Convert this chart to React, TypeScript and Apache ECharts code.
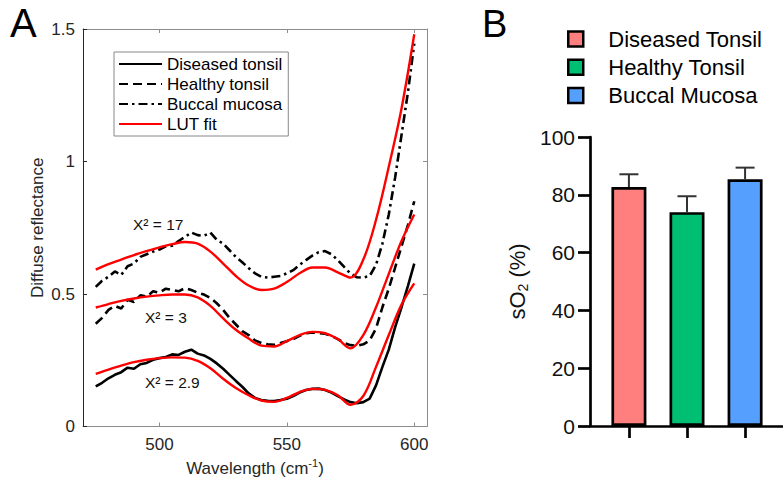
import React, { useEffect, useRef } from "react";
import * as echarts from "echarts";

const FONT = '"Liberation Sans", Arial, Helvetica, sans-serif';

// ---------- Panel A: diffuse reflectance spectra ----------
const wavelengthRaw = [
  475, 477.5, 480, 482.5, 485, 487.5, 490, 492.5, 495, 497.5, 500, 502.5, 505, 507.5, 510, 512.5, 515,
  517.5, 520, 522.5, 525, 527.5, 530, 532.5, 535, 537.5, 540, 542.5, 545, 547.5, 550, 552.5, 555, 557.5,
  560, 562.5, 565, 567.5, 570, 572.5, 575, 577.5, 580, 582.5, 585, 587.5, 590, 592.5, 595, 597.5, 600,
];
const wavelengthFit = [
  475, 480, 485, 490, 495, 500, 505, 510, 515, 520, 525, 530, 535, 540, 545, 550, 555, 560, 565, 570, 575,
  580, 585, 590, 595, 600,
];

const diseasedRaw = [
  0.151, 0.165, 0.182, 0.195, 0.205, 0.222, 0.218, 0.235, 0.24, 0.252, 0.258, 0.262, 0.272, 0.27, 0.282,
  0.29, 0.275, 0.268, 0.255, 0.238, 0.218, 0.195, 0.172, 0.15, 0.125, 0.108, 0.1, 0.097, 0.096, 0.1, 0.105,
  0.115, 0.128, 0.138, 0.142, 0.143, 0.138, 0.128, 0.115, 0.102, 0.092, 0.088, 0.092, 0.105, 0.155, 0.225,
  0.29, 0.375, 0.45, 0.53, 0.615,
];
const healthyRaw = [
  0.388, 0.41, 0.44, 0.455, 0.445, 0.478, 0.47, 0.495, 0.49, 0.51, 0.505, 0.52, 0.515, 0.51, 0.522, 0.515,
  0.505, 0.498, 0.485, 0.465, 0.44, 0.41, 0.385, 0.36, 0.345, 0.325, 0.315, 0.31, 0.308, 0.315, 0.322, 0.33,
  0.342, 0.352, 0.355, 0.352, 0.35, 0.342, 0.33, 0.315, 0.307, 0.305, 0.31, 0.325, 0.37, 0.45, 0.52, 0.6,
  0.68, 0.76, 0.85,
];
const buccalRaw = [
  0.527, 0.55, 0.565, 0.585, 0.572, 0.605, 0.615, 0.64, 0.65, 0.66, 0.668, 0.68, 0.682, 0.7, 0.715, 0.732,
  0.722, 0.72, 0.732, 0.705, 0.69, 0.665, 0.64, 0.62, 0.598, 0.578, 0.565, 0.562, 0.565, 0.568, 0.578, 0.59,
  0.61, 0.628, 0.645, 0.658, 0.662, 0.65, 0.628, 0.602, 0.577, 0.563, 0.562, 0.568, 0.61, 0.69, 0.8, 0.94,
  1.1, 1.26, 1.445,
];

const diseasedFit = [
  0.199, 0.215, 0.23, 0.243, 0.252, 0.258, 0.261, 0.26, 0.248, 0.22, 0.18, 0.145, 0.118, 0.098, 0.093,
  0.108, 0.13, 0.142, 0.138, 0.118, 0.082, 0.115, 0.225, 0.345, 0.46, 0.54,
];
const healthyFit = [
  0.449, 0.462, 0.474, 0.483, 0.49, 0.495, 0.498, 0.498, 0.487, 0.455, 0.408, 0.365, 0.332, 0.305, 0.302,
  0.322, 0.345, 0.357, 0.352, 0.33, 0.295, 0.345, 0.45, 0.576, 0.7, 0.8,
];
const buccalFit = [
  0.592, 0.613, 0.63, 0.647, 0.662, 0.676, 0.688, 0.696, 0.69, 0.66, 0.615, 0.568, 0.532, 0.515, 0.52,
  0.545, 0.578, 0.6, 0.6, 0.582, 0.562, 0.63, 0.78, 0.98, 1.2, 1.48,
];

const sampleNames = ["Diseased tonsil", "Healthy tonsil", "Buccal mucosa"];
const fitName = "LUT fit";
const chiLabels = ["X² = 17", "X² = 3", "X² = 2.9"];
const wavelengthTicks = [500, 550, 600];

// ---------- Panel B: sO2 bar chart ----------
const groupNames = ["Diseased Tonsil", "Healthy Tonsil", "Buccal Mucosa"];
const groupPositions = [1, 2, 3];
const sO2Mean = [82.7, 74.0, 85.4];
const sO2Err = [4.4, 5.5, 4.0];

const pairs = (xs: number[], ys: number[]) => xs.map((x, i) => [x, ys[i]]);

export default function App() {
  const ref = useRef<HTMLDivElement>(null);

  useEffect(() => {
    if (!ref.current) return;
    const chart = echarts.init(ref.current, undefined, { renderer: "svg" });

    const barColors = ["#FF7F7F", "#00BF73", "#559FFF"];
    const rawDash: any[] = ["solid", [9, 5], [9, 4, 2.5, 4]];
    const raws = [diseasedRaw, healthyRaw, buccalRaw];
    const fits = [diseasedFit, healthyFit, buccalFit];
    const gray = "#8c8c8c";
    const dark = "#262626";

    const rawSeries = raws.map((ys, i) => ({
      type: "line",
      name: sampleNames[i],
      xAxisIndex: 0,
      yAxisIndex: 0,
      data: pairs(wavelengthRaw, ys),
      symbol: "none",
      showSymbol: false,
      lineStyle: { color: "#000", width: 2.6, type: rawDash[i] },
      itemStyle: { color: "#000" },
      z: 2,
    }));
    const fitSeries = fits.map((ys) => ({
      type: "line",
      name: fitName,
      xAxisIndex: 0,
      yAxisIndex: 0,
      data: pairs(wavelengthFit, ys),
      symbol: "none",
      showSymbol: false,
      smooth: 0.35,
      lineStyle: { color: "#ff0000", width: 2.4 },
      itemStyle: { color: "#ff0000" },
      z: 3,
    }));
    const barSeries = groupNames.map((n, i) => ({
      type: "bar",
      name: n,
      xAxisIndex: 2,
      yAxisIndex: 2,
      data: [[groupPositions[i], sO2Mean[i]]],
      barWidth: 35,
      barGap: "-100%",
      itemStyle: { color: barColors[i], borderColor: "#000", borderWidth: 2.7 },
      z: 2,
    }));
    const errSeries = {
      type: "custom",
      xAxisIndex: 2,
      yAxisIndex: 2,
      silent: true,
      z: 5,
      data: groupPositions.map((p, i) => [p, sO2Mean[i], sO2Err[i]]),
      renderItem: (params: any, api: any) => {
        const x = api.value(0);
        const m = api.value(1);
        const e = api.value(2);
        const base = api.coord([x, m]);
        const top = api.coord([x, m + e]);
        const hw = 9.5;
        return {
          type: "group",
          children: [
            {
              type: "line",
              shape: { x1: base[0], y1: base[1], x2: top[0], y2: top[1] },
              style: { stroke: "#333", lineWidth: 2 },
            },
            {
              type: "line",
              shape: { x1: top[0] - hw, y1: top[1], x2: top[0] + hw, y2: top[1] },
              style: { stroke: "#333", lineWidth: 2 },
            },
          ],
        };
      },
    };

    const chiPos = [
      { x: 133, y: 224 },
      { x: 145, y: 317.5 },
      { x: 145, y: 382.5 },
    ];

    const option: any = {
      animation: false,
      backgroundColor: "#fff",
      textStyle: { fontFamily: FONT },
      grid: [
        { left: 83, top: 29, width: 344, height: 397.5, outerBoundsMode: "none", containLabel: false },
        { left: 590, top: 137, width: 194, height: 289, outerBoundsMode: "none", containLabel: false },
      ],
      legend: [
        {
          orient: "vertical",
          left: 114,
          top: 52,
          data: [...sampleNames, fitName],
          selectedMode: false,
          itemWidth: 43,
          itemHeight: 12,
          itemGap: 3,
          padding: [3.5, 6, 3.5, 4],
          borderColor: "#888",
          borderWidth: 1,
          backgroundColor: "#fff",
          itemStyle: { opacity: 0, borderWidth: 0 },
          textStyle: { fontSize: 17, lineHeight: 17, color: "#000", fontFamily: FONT },
        },
        {
          orient: "vertical",
          left: 567,
          top: 28,
          data: groupNames,
          selectedMode: false,
          itemWidth: 15,
          itemHeight: 15,
          itemGap: 6.2,
          padding: 0,
          icon: "rect",
          itemStyle: { borderColor: "#000", borderWidth: 2.5 },
          textStyle: { fontSize: 22, lineHeight: 22, color: "#000", fontFamily: FONT, padding: [0, 0, 0, 20] },
        },
      ],
      xAxis: [
        {
          gridIndex: 0,
          type: "value",
          min: 470,
          max: 605,
          position: "bottom",
          axisLine: { show: true, onZero: false, lineStyle: { color: gray, width: 1 } },
          axisTick: { show: true, inside: true, length: 4, customValues: wavelengthTicks, lineStyle: { color: gray } },
          axisLabel: { customValues: wavelengthTicks, fontSize: 17, color: dark, fontFamily: FONT, margin: 9 },
          splitLine: { show: false },
          name: "Wavelength (cm{sup|-1})",
          nameLocation: "middle",
          nameGap: 30,
          nameTextStyle: {
            fontSize: 17,
            lineHeight: 22,
            color: dark,
            fontFamily: FONT,
            rich: { sup: { fontSize: 11, verticalAlign: "top", color: dark, fontFamily: FONT } },
          },
        },
        {
          gridIndex: 0,
          type: "value",
          min: 470,
          max: 605,
          position: "top",
          axisLine: { show: true, onZero: false, lineStyle: { color: gray, width: 1 } },
          axisTick: { show: true, inside: true, length: 4, customValues: wavelengthTicks, lineStyle: { color: gray } },
          axisLabel: { show: false },
          splitLine: { show: false },
        },
        {
          gridIndex: 1,
          type: "value",
          min: 0.33,
          max: 3.67,
          position: "bottom",
          axisLine: { show: true, onZero: false, lineStyle: { color: "#000", width: 2.7 } },
          axisTick: { show: true, length: 12, customValues: groupPositions, lineStyle: { color: "#000", width: 2.7 } },
          axisLabel: { show: false },
          splitLine: { show: false },
        },
      ],
      yAxis: [
        {
          gridIndex: 0,
          type: "value",
          min: 0,
          max: 1.5,
          interval: 0.5,
          position: "left",
          axisLine: { show: true, onZero: false, lineStyle: { color: dark, width: 1 } },
          axisTick: { show: true, inside: true, length: 4, lineStyle: { color: dark } },
          axisLabel: { fontSize: 17, color: dark, fontFamily: FONT, margin: 8 },
          splitLine: { show: false },
          name: "Diffuse reflectance",
          nameLocation: "middle",
          nameRotate: 90,
          nameGap: 37.5,
          nameTextStyle: { fontSize: 17, color: dark, fontFamily: FONT },
        },
        {
          gridIndex: 0,
          type: "value",
          min: 0,
          max: 1.5,
          interval: 0.5,
          position: "right",
          axisLine: { show: true, onZero: false, lineStyle: { color: gray, width: 1 } },
          axisTick: { show: true, inside: true, length: 4, lineStyle: { color: gray } },
          axisLabel: { show: false },
          splitLine: { show: false },
        },
        {
          gridIndex: 1,
          type: "value",
          min: 0,
          max: 100,
          interval: 20,
          position: "left",
          axisLine: { show: true, onZero: false, lineStyle: { color: "#000", width: 2.7 } },
          axisTick: { show: true, length: 12, lineStyle: { color: "#000", width: 2.7 } },
          axisLabel: { fontSize: 21, color: "#111", fontFamily: FONT, margin: 15 },
          splitLine: { show: false },
          name: "sO{sub|2} (%)",
          nameLocation: "middle",
          nameRotate: 90,
          nameGap: 60,
          nameTextStyle: {
            fontSize: 22,
            lineHeight: 26,
            color: "#111",
            fontFamily: FONT,
            rich: { sub: { fontSize: 14, verticalAlign: "bottom", color: "#111", fontFamily: FONT } },
          },
        },
      ],
      graphic: [
        {
          type: "text",
          x: 10,
          y: 22.5,
          style: { text: "A", fontSize: 40, fontFamily: FONT, fill: "#000", verticalAlign: "middle" },
        },
        {
          type: "text",
          x: 482,
          y: 23.5,
          style: { text: "B", fontSize: 38, fontFamily: FONT, fill: "#000", verticalAlign: "middle" },
        },
        ...chiLabels.map((t, i) => ({
          type: "text",
          x: chiPos[i].x,
          y: chiPos[i].y,
          z: 10,
          style: { text: t, fontSize: 15.5, fontFamily: FONT, fill: "#111", verticalAlign: "middle" },
        })),
      ],
      series: [...rawSeries, ...fitSeries, ...barSeries, errSeries],
    };

    chart.setOption(option);
    return () => {
      chart.dispose();
    };
  }, []);

  return (
    <div
      ref={ref}
      style={{ position: "absolute", left: 0, top: 0, width: 783, height: 484, background: "#fff" }}
    />
  );
}
